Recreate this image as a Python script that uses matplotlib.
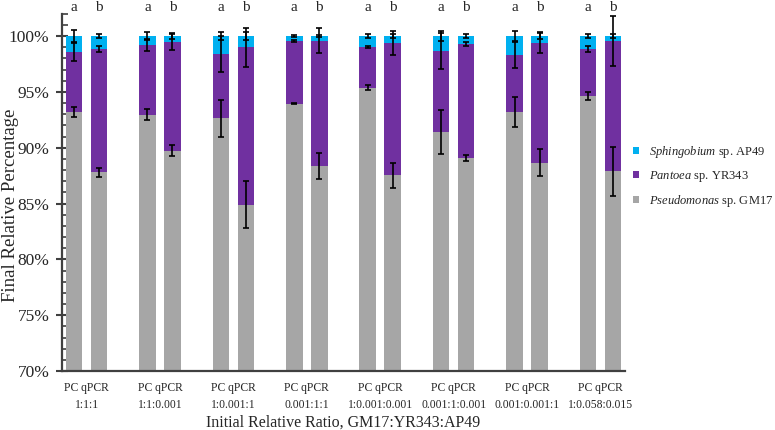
import matplotlib
matplotlib.use("Agg")
import matplotlib.pyplot as plt
import numpy as np
from matplotlib.ticker import MultipleLocator, FuncFormatter

plt.rcParams['font.family'] = ['Liberation Serif', 'DejaVu Serif']
plt.rcParams['mathtext.fontset'] = 'custom'
plt.rcParams['mathtext.it'] = 'Liberation Serif:italic'
plt.rcParams['mathtext.rm'] = 'Liberation Serif'

# ---- data ----
ratios = ["1:1:1", "1:1:0.001", "1:0.001:1", "0.001:1:1",
          "1:0.001:0.001", "0.001:1:0.001", "0.001:0.001:1", "1:0.058:0.015"]
methods = ["PC", "qPCR"]
sig_letters = ["a", "b"]

# PC measurements (%)
pc_gm17 = [93.20, 92.97, 92.65, 93.95, 95.36, 91.43, 93.22, 94.60]
pc_yr343 = [5.40, 6.22, 5.73, 5.63, 3.65, 7.22, 5.08, 4.23]
pc_ap49 = [1.40, 0.81, 1.62, 0.42, 0.99, 1.35, 1.70, 1.17]
pc_gm17_err = [0.45, 0.52, 1.66, 0.05, 0.22, 1.97, 1.35, 0.37]
pc_yr343_err = [0.80, 0.57, 1.62, 0.08, 0.10, 1.64, 1.17, 0.25]
pc_ap49_err = [0.50, 0.40, 0.36, 0.10, 0.16, 0.42, 0.45, 0.20]

# qPCR measurements (%)
q_gm17 = [87.80, 89.74, 84.90, 88.36, 87.53, 89.08, 88.66, 87.90]
q_yr343 = [11.03, 9.69, 14.08, 11.22, 11.87, 10.23, 10.74, 11.65]
q_ap49 = [1.17, 0.57, 1.02, 0.42, 0.60, 0.69, 0.60, 0.45]
q_gm17_err = [0.42, 0.52, 2.09, 1.15, 1.12, 0.30, 1.20, 2.20]
q_yr343_err = [0.27, 0.72, 1.77, 1.10, 1.09, 0.18, 0.94, 2.20]
q_ap49_err = [0.18, 0.30, 0.33, 0.10, 0.15, 0.22, 0.30, 0.15]

species = ["$\\it{Pseudomonas}$ sp. GM17", "$\\it{Pantoea}$ sp. YR343",
           "$\\it{Sphingobium}$ sp. AP49"]
colors = ["#A6A6A6", "#7030A0", "#00B0F0"]

# ---- figure ----
fig = plt.figure(figsize=(7.75, 4.3), dpi=100)
ax = fig.add_axes([62 / 775, 59 / 430, 563 / 775, (371 - 13.7) / 430])

x = np.arange(len(ratios))
offset = 0.17
width = 0.225
text_col = "#262626"

datasets = [
    (x - offset, [pc_gm17, pc_yr343, pc_ap49], [pc_gm17_err, pc_yr343_err, pc_ap49_err]),
    (x + offset, [q_gm17, q_yr343, q_ap49], [q_gm17_err, q_yr343_err, q_ap49_err]),
]

handles = [None, None, None]
for xpos, vals, errs in datasets:
    bottom = np.zeros(len(ratios))
    for k in range(3):
        v = np.array(vals[k])
        b = ax.bar(xpos, v, width, bottom=bottom, color=colors[k], edgecolor='none',
                   label=species[k], zorder=2)
        handles[k] = b
        top = bottom + v
        ax.errorbar(xpos, top, yerr=errs[k], fmt='none', ecolor='black',
                    elinewidth=1.2, capsize=2, capthick=1.2, zorder=3)
        bottom = top

for j, xpos in enumerate([x - offset, x + offset]):
    for xi in xpos:
        ax.text(xi, 102.6, sig_letters[j], ha='center', va='center',
                fontsize=11, color=text_col, clip_on=False)

ax.set_ylim(70, 102)
ax.set_xlim(-0.334, 7.334)
ax.yaxis.set_major_locator(MultipleLocator(5))
ax.yaxis.set_minor_locator(MultipleLocator(1))
ax.yaxis.set_major_formatter(FuncFormatter(lambda v, p: f"{v:.0f}%"))
ax.tick_params(axis='y', which='major', direction='inout', length=8, width=1.5,
               color='#404040', labelsize=12.5, labelcolor=text_col, pad=5)
ax.tick_params(axis='y', which='minor', direction='in', length=4, width=1.2,
               color='#404040')
ax.set_xticks(x)
ax.set_xticklabels([f"{methods[0]} {methods[1]}\n{r}" for r in ratios],
                   fontsize=8.4, color=text_col, linespacing=1.5)
ax.tick_params(axis='x', length=0, pad=8)

for s in ['top', 'right']:
    ax.spines[s].set_visible(False)
for s in ['left', 'bottom']:
    ax.spines[s].set_color('#404040')
    ax.spines[s].set_linewidth(1.6)

ax.set_ylabel("Final Relative Percentage", fontsize=13.5, color=text_col)
ax.yaxis.set_label_coords(-0.076, 0.465)
ax.set_xlabel("Initial Relative Ratio, GM17:YR343:AP49", fontsize=11.5,
              color=text_col, labelpad=3)

leg = fig.legend([handles[2], handles[1], handles[0]],
                 [species[2], species[1], species[0]],
                 loc='upper left', bbox_to_anchor=(633 / 775, 1 - 144.3 / 430),
                 frameon=False, fontsize=9, handlelength=0.45, handleheight=0.45,
                 handletextpad=0.8, labelspacing=0.71, borderpad=0,
                 borderaxespad=0)
for t in leg.get_texts():
    t.set_color(text_col)

fig.savefig("out.png", dpi=100)
